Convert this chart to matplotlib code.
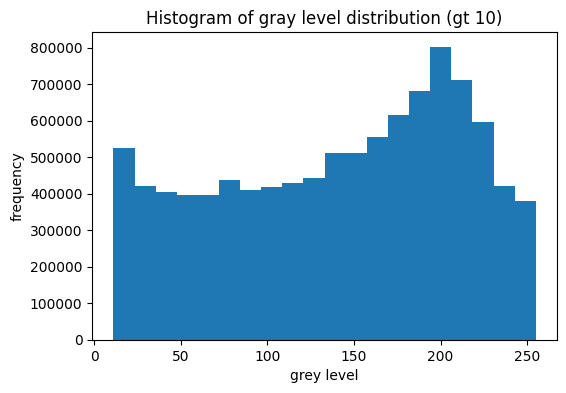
import matplotlib
matplotlib.use("Agg")
import matplotlib.pyplot as plt
import numpy as np

# bin edges of the grey level histogram (values above 10)
bin_edges = np.linspace(11, 255, 21)
counts = [527000, 423000, 404000, 398000, 398000, 437000, 410000, 418000, 429000, 445000,
          511000, 511000, 555000, 617000, 683000, 803000, 713000, 598000, 421000, 380000]

centers = (bin_edges[:-1] + bin_edges[1:]) / 2

fig = plt.figure(figsize=(5.66, 3.93), dpi=100)
ax = fig.add_axes([0.163, 0.135, 0.821, 0.783])
ax.hist(centers, bins=bin_edges, weights=counts)
ax.set_title('Histogram of gray level distribution (gt 10)')
ax.set_xlabel('grey level')
ax.set_ylabel('frequency')

plt.savefig('out.png', dpi=100)
